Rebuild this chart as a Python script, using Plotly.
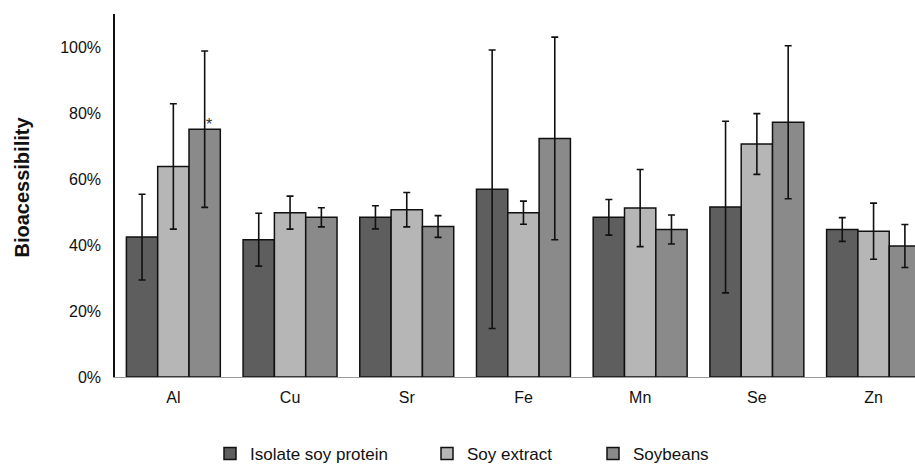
import plotly.graph_objects as go

categories = ["Al", "Cu", "Sr", "Fe", "Mn", "Se", "Zn"]
series_names = ["Isolate soy protein", "Soy extract", "Soybeans"]

isolate_vals = [42.4, 41.6, 48.4, 56.9, 48.4, 51.5, 44.7]
isolate_err = [13.0, 8.0, 3.5, 42.2, 5.4, 26.0, 3.6]
extract_vals = [63.8, 49.8, 50.7, 49.8, 51.2, 70.6, 44.2]
extract_err = [19.0, 5.0, 5.2, 3.5, 11.7, 9.2, 8.5]
soybean_vals = [75.1, 48.4, 45.6, 72.3, 44.7, 77.2, 39.7]
soybean_err = [23.7, 2.9, 3.3, 30.7, 4.4, 23.2, 6.5]

y_tick_vals = [0, 20, 40, 60, 80, 100]
y_tick_text = ["0%", "20%", "40%", "60%", "80%", "100%"]

colors = ["#5e5e5e", "#b6b6b6", "#8a8a8a"]
FONT = "Liberation Sans, Arial, sans-serif"

fig = go.Figure()
all_vals = [isolate_vals, extract_vals, soybean_vals]
all_errs = [isolate_err, extract_err, soybean_err]
legends = ["legend", "legend2", "legend3"]
for name, vals, errs, col, lg in zip(series_names, all_vals, all_errs, colors, legends):
    fig.add_trace(go.Bar(
        x=categories, y=vals, name=name, legend=lg,
        marker=dict(color=col, line=dict(color="#111111", width=1.5)),
        error_y=dict(type="data", array=errs, visible=True,
                     color="#111111", thickness=1.6, width=3.5),
    ))

# significance mark on the Soybeans bar of Al
fig.add_annotation(x=categories[0], y=soybean_vals[0], xref="x", yref="y", text="*",
                   showarrow=False, xshift=36, yanchor="bottom", yshift=-6,
                   font=dict(family=FONT, size=16, color="#333333"))

fig.add_annotation(x=0, y=0.522, xref="paper", yref="paper", text="<b>Bioacessibility</b>",
                   textangle=-90, showarrow=False, xanchor="center", yanchor="middle",
                   xshift=-93,
                   font=dict(family=FONT, size=20, color="#111111"))

leg_common = dict(orientation="h", yref="paper",
                  yanchor="middle", y=(377 - 454) / 363, bgcolor="rgba(0,0,0,0)",
                  font=dict(family=FONT, size=17, color="#111111"),
                  itemwidth=30, tracegroupgap=0)

fig.update_layout(
    width=915, height=464,
    margin=dict(l=115, r=0, t=14, b=87, autoexpand=False),
    paper_bgcolor="white", plot_bgcolor="white",
    barmode="group", bargap=0.195, bargroupgap=0,
    showlegend=True,
    legend=dict(**leg_common, xref="paper", x=(250 - 40 - 115) / 800),
    legend2=dict(**leg_common, xref="paper", x=(467 - 40 - 115) / 800),
    legend3=dict(**leg_common, xref="paper", x=(633 - 40 - 115) / 800),
    xaxis=dict(range=[-0.5, 6.355], showline=True, linecolor="#9a9a9a", linewidth=1.2,
               ticks="", showgrid=False, zeroline=False, ticklabelstandoff=6,
               tickfont=dict(family=FONT, size=16, color="#111111")),
    yaxis=dict(range=[0, 110], tickmode="array", tickvals=y_tick_vals, ticktext=y_tick_text,
               showline=True, linecolor="#111111", linewidth=1.5, ticks="",
               showgrid=False, zeroline=False, ticklabelstandoff=9,
               tickfont=dict(family=FONT, size=16, color="#111111")),
    font=dict(family=FONT),
)

fig.write_html("out.html", config={"displayModeBar": False},
               post_script="document.body.style.margin='0';document.body.style.overflow='hidden';")
